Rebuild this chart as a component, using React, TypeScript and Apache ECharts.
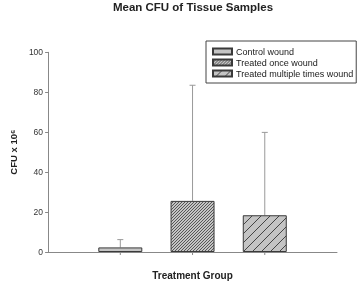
import React, { useEffect, useRef } from "react";
import * as echarts from "echarts";

const categories = ["", "Control wound", "Treated once wound", "Treated multiple times wound", ""];
const seriesNames = ["Control wound", "Treated once wound", "Treated multiple times wound"];
const means = [2.3, 25.6, 18.4];
const upperErrors = [6.2, 83.5, 59.9];
const yTicks = { min: 0, max: 100, interval: 20 };

const FONT = "Liberation Sans, Arial, sans-serif";
const BAR_GRAY = "#c4c4c4";

// hatch tile: "/" diagonal lines every `size` px
function hatch(size: number, lineColor: string, lineWidth: number): any {
  const c = document.createElement("canvas");
  c.width = size;
  c.height = size;
  const ctx = c.getContext("2d")!;
  ctx.fillStyle = BAR_GRAY;
  ctx.fillRect(0, 0, size, size);
  ctx.strokeStyle = lineColor;
  ctx.lineWidth = lineWidth;
  ctx.beginPath();
  ctx.moveTo(-1, size + 1);
  ctx.lineTo(size + 1, -1);
  ctx.moveTo(-1, 1);
  ctx.lineTo(1, -1);
  ctx.moveTo(size - 1, size + 1);
  ctx.lineTo(size + 1, size - 1);
  ctx.stroke();
  return { image: c, repeat: "repeat" };
}

export default function App() {
  const ref = useRef<HTMLDivElement>(null);
  useEffect(() => {
    const chart = echarts.init(ref.current!, null, { renderer: "svg" });
    const fills: any[] = [BAR_GRAY, hatch(3, "#4a4a4a", 0.9), hatch(9, "#444", 1)];
    const barSeries = seriesNames.map((name, i) => ({
      name,
      type: "bar",
      stack: "all",
      barWidth: 44,
      data: categories.map((_, j) => (j === i + 1 ? means[i] : "-")),
      itemStyle: {
        color: fills[i],
        borderColor: "#3a3a3a",
        borderWidth: 1,
      },
      emphasis: { disabled: true },
    }));
    const errData = means.map((m, i) => [i + 1, m, upperErrors[i]]);
    chart.setOption({
      animation: false,
      title: {
        text: "Mean CFU of Tissue Samples",
        left: 193,
        textAlign: "center",
        top: 1,
        padding: 0,
        textStyle: { fontFamily: FONT, fontSize: 11.5, fontWeight: "bold", color: "#222" },
      },
      legend: {
        data: seriesNames,
        orient: "vertical",
        left: 206,
        top: 41,
        padding: [6, 3, 5, 6],
        itemWidth: 19,
        itemHeight: 6,
        itemGap: 2,
        borderColor: "#444",
        borderWidth: 1,
        borderRadius: 0,
        icon: "rect",
        selectedMode: false,
        textStyle: { fontFamily: FONT, fontSize: 9, color: "#1a1a1a", padding: [0, 0, 0, -1] },
      },
      grid: { left: 43, right: 22, top: 52.3, bottom: 28.3, containLabel: false },
      xAxis: {
        type: "category",
        data: categories,
        boundaryGap: false,
        name: "Treatment Group",
        nameLocation: "middle",
        nameGap: 18,
        nameTextStyle: { fontFamily: FONT, fontSize: 10, fontWeight: "bold", color: "#222" },
        axisLine: { lineStyle: { color: "#888", width: 1 } },
        axisTick: { show: false },
        axisLabel: { show: false },
        splitLine: { show: false },
      },
      yAxis: {
        type: "value",
        min: yTicks.min,
        max: yTicks.max,
        interval: yTicks.interval,
        name: "CFU x 10⁶",
        nameLocation: "middle",
        nameRotate: 90,
        nameGap: 28,
        nameTextStyle: { fontFamily: FONT, fontSize: 9.5, fontWeight: "bold", color: "#222" },
        axisLine: { show: true, lineStyle: { color: "#888", width: 1 } },
        axisTick: { show: true, length: 3, lineStyle: { color: "#888" } },
        axisLabel: { fontFamily: FONT, fontSize: 8.5, color: "#333", margin: 5 },
        splitLine: { show: false },
      },
      series: [
        ...barSeries,
        {
          type: "custom",
          name: "err",
          data: errData,
          encode: { x: 0, y: [1, 2] },
          z: 1,
          renderItem: (params: any, api: any) => {
            const x = api.value(0);
            const lo = api.coord([x, api.value(1)]);
            const hi = api.coord([x, api.value(2)]);
            const base = api.coord([x, 0]);
            const style = { stroke: "#999", lineWidth: 1 };
            return {
              type: "group",
              children: [
                { type: "line", shape: { x1: lo[0], y1: lo[1], x2: hi[0], y2: hi[1] }, style },
                { type: "line", shape: { x1: hi[0] - 3, y1: hi[1], x2: hi[0] + 3, y2: hi[1] }, style },
                { type: "line", shape: { x1: base[0], y1: base[1], x2: base[0], y2: base[1] + 3 }, style: { stroke: "#888", lineWidth: 1 } },
              ],
            };
          },
        },
      ],
    });
    return () => chart.dispose();
  }, []);
  return <div ref={ref} style={{ position: "fixed", left: 0, top: 0, width: 359, height: 285 }} />;
}
